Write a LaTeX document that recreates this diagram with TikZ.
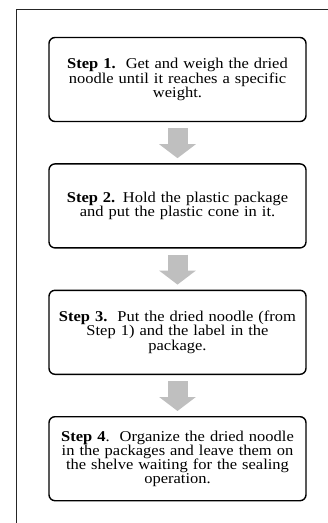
\documentclass[tikz,border=0pt]{standalone}
\usepackage{fontspec}
\setmainfont{Liberation Serif}[FakeStretch=1.1]
\usetikzlibrary{arrows.meta,positioning}

\begin{document}
\begin{tikzpicture}[x=1pt,y=-1pt,node distance=41pt,
    stepbox/.style={draw,line width=1.4pt,rounded corners=6pt,
      minimum width=257pt,minimum height=84pt,inner xsep=3pt,
      text width=251pt,align=center,
      font=\fontsize{15pt}{14.2pt}\selectfont},
    flow/.style={draw=black!25,line width=20pt,
      -{Triangle[width=36pt,length=14pt]}}]
    \useasboundingbox (0,0) rectangle (328,523);

    % frame
    \draw[line width=1pt,black!85] (16,523) -- (16,9) -- (328,9);

    \node[stepbox]                    (s1) at (177.5,79.5)
      {\textbf{Step 1.}\ \ Get and weigh the dried\\noodle until it reaches a specific\\weight.};
    \node[stepbox]                    (s2) [below=of s1]
      {\textbf{Step 2.} Hold the plastic package\\and put the plastic cone in it.};
    \node[stepbox]                    (s3) [below=of s2]
      {\textbf{Step 3.}\ \ Put the dried noodle (from\\Step 1) and the label in the\\package.};
    \node[stepbox]                    (s4) [below=of s3]
      {\textbf{Step 4}.\ \ Organize the dried noodle\\in the packages and leave them on\\the shelve waiting for the sealing\\operation.};

    \path[flow] ([yshift=-6pt]s1.south) -- ([yshift=5pt]s2.north);
    \path[flow] ([yshift=-6pt]s2.south) -- ([yshift=5pt]s3.north);
    \path[flow] ([yshift=-6pt]s3.south) -- ([yshift=5pt]s4.north);
  \end{tikzpicture}
\end{document}
